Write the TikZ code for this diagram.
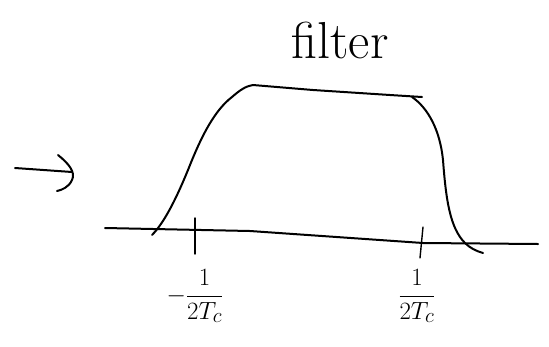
\documentclass[tikz,border=0pt]{standalone}
\usetikzlibrary{calc}
\begin{document}
\begin{tikzpicture}[x=1pt,y=-1pt,
  ink/.style={line width=2pt,line cap=round,line join=round},
  thin ink/.style={line width=1.4pt,line cap=round},
  lbl/.style={inner sep=0pt,font=\fontsize{30}{36}\selectfont}]
\useasboundingbox (0,0) rectangle (549,346);
% title
\node[inner sep=0pt,font=\fontsize{52}{60}\selectfont] (title) at (340,40) {filter};
% arrow
\coordinate (a0) at (15,168);
\coordinate (a1) at (72,172);
\draw[ink] (a0) -- (a1);
\draw[ink] (58,155) .. controls (68,163) and (76,172) .. (72,180) .. controls (69,187) and (62,190) .. (57,191);
% axis
\coordinate (x0) at (105,228);
\coordinate (x1) at (250,231);
\coordinate (x2) at (423,243);
\coordinate (x3) at (538,244);
\draw[ink] (x0) -- (x1) -- (x2) -- (x3);
% filter curve
\draw[ink] (152,235) .. controls (165,222) and (178,195) .. (190,165)
  .. controls (202,135) and (215,110) .. (232,97)
  .. controls (240,90) and (246,86) .. (253,85)
  -- (313,90) -- (390,95) -- (422,97);
\draw[ink] (412,97) .. controls (428,108) and (440,130) .. (443,160)
  .. controls (446,200) and (450,228) .. (465,243)
  .. controls (470,248) and (476,251) .. (483,253);
% ticks
\draw[thin ink] (195,218) -- (195,254);
\draw[thin ink] (423,227) -- (420,258);
% labels
\node[lbl] (lneg) at (195,296) {$\displaystyle-\frac{1}{2T_c}$};
\node[lbl] (rpos) at (417,296) {$\displaystyle\frac{1}{2T_c}$};
\end{tikzpicture}
\end{document}
